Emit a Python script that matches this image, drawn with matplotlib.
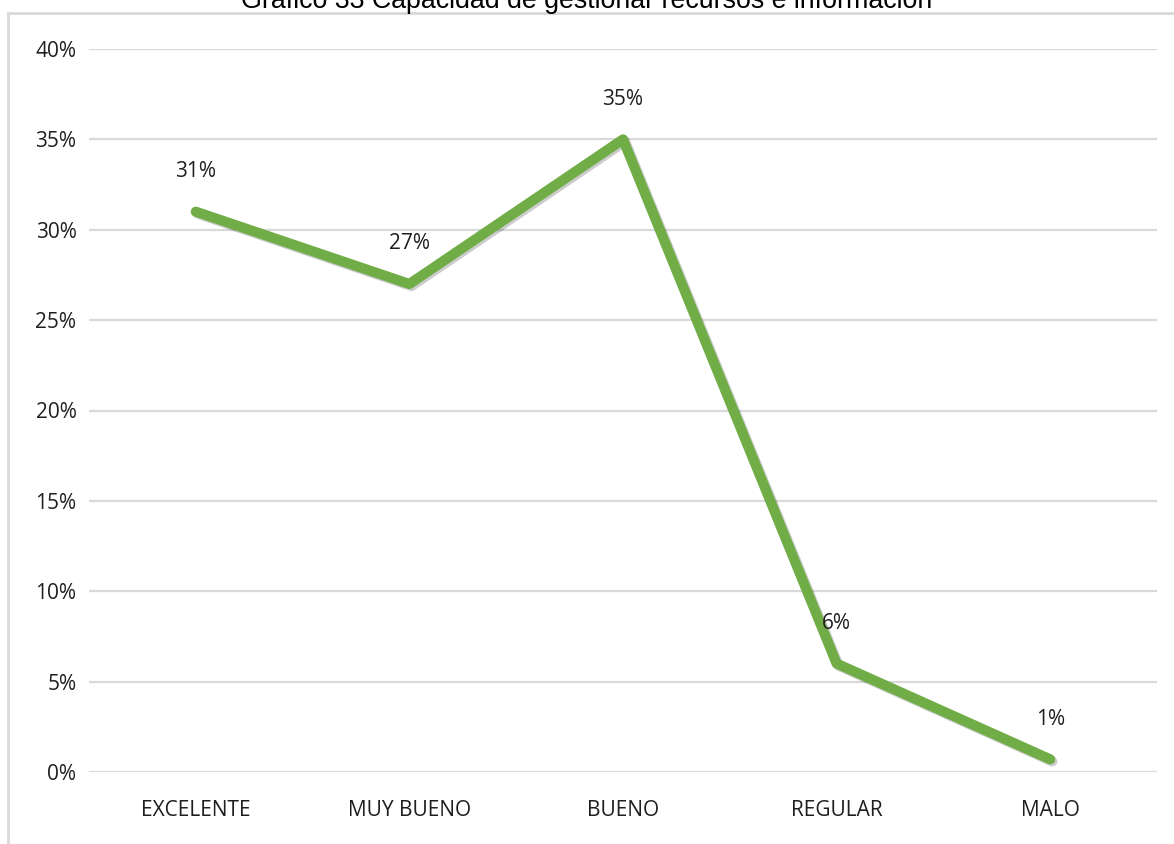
import matplotlib
matplotlib.use("Agg")
import matplotlib.pyplot as plt
import matplotlib.patheffects as pe
from matplotlib.patches import Rectangle

# data
categories = ["EXCELENTE", "MUY BUENO", "BUENO", "REGULAR", "MALO"]
values = [31, 27, 35, 6, 0.7]
labels = ["31%", "27%", "35%", "6%", "1%"]
yticks = [0, 5, 10, 15, 20, 25, 30, 35, 40]
title = "Gráfico 33 Capacidad de gestionar recursos e información"

W, H = 1174, 844
fig = plt.figure(figsize=(W / 100, H / 100), dpi=100)
fig.patch.set_facecolor("white")

lab_font = ["Liberation Sans Narrow", "Open Sans", "DejaVu Sans"]

# outer chart box (only top and left edges visible)
fig.patches.append(Rectangle((8 / W, -0.1), 1.2, 1.1 - 13 / H, transform=fig.transFigure,
                             fill=False, edgecolor="#d9d9d9", lw=2))

ax = fig.add_axes([89 / W, (H - 772) / H, (1157 - 89) / W, (772 - 49) / H])
ax.set_xlim(-0.5, 4.5)
ax.set_ylim(0, 40)

for y in yticks:
    ax.axhline(y, color="#d9d9d9", lw=1.6, zorder=1)

x = list(range(len(categories)))
ax.plot(x, values, color="#70AD47", lw=7.3, solid_capstyle="round", solid_joinstyle="round",
        zorder=3, path_effects=[pe.SimpleLineShadow(offset=(1.5, -1.5), shadow_color="black", alpha=0.2),
                                pe.Normal()])

for xi, v, t in zip(x, values, labels):
    ax.annotate(t, (xi, v), xytext=(0, 29), textcoords="offset points", ha="center", va="center",
                fontsize=15, family=lab_font, color="#1f1f1f")

ax.set_xticks(x)
ax.set_xticklabels(categories, family=lab_font, fontsize=15, color="#1f1f1f")
ax.set_yticks(yticks)
ax.set_yticklabels([f"{y}%" for y in yticks], family=lab_font, fontsize=15, color="#1f1f1f")
ax.tick_params(axis="x", length=0, pad=20)
ax.tick_params(axis="y", length=0, pad=9)
for s in ax.spines.values():
    s.set_visible(False)

# title sits mostly above the top edge, as in the source image
fig.text(0.5, 1 - 8 / H, title, ha="center", va="baseline", fontsize=19.3,
         family=["Liberation Sans", "DejaVu Sans"], color="black")

fig.savefig("out.png", dpi=100)
